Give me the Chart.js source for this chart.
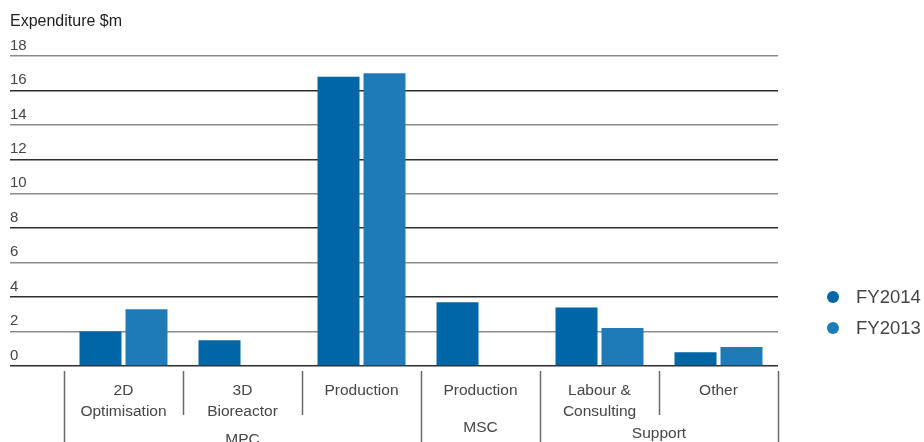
<!DOCTYPE html>
<html>
<head>
<meta charset="utf-8">
<script src="https://cdn.jsdelivr.net/npm/chart.js@4/dist/chart.umd.min.js"></script>
<style>
  html, body { margin: 0; padding: 0; background: #fff; }
  #wrap { width: 924px; height: 442px; }
</style>
</head>
<body>
<div id="wrap"><canvas id="chart" width="924" height="442"></canvas></div>
<script>
const categories = [['2D', 'Optimisation'], ['3D', 'Bioreactor'], 'Production', 'Production', ['Labour &', 'Consulting'], 'Other'];
const fy2014 = [2.0, 1.5, 16.8, 3.7, 3.4, 0.8];
const fy2013 = [3.3, null, 17.0, null, 2.2, 1.1];
const groupLabels = ['MPC', 'MSC', 'Support'];
const groupSpans = [[0, 2], [3, 3], [4, 5]];
const yTicks = { min: 0, max: 18, step: 2 };

const FONT = '"Liberation Sans", Arial, sans-serif';
const TEXT = '#454545';

// dividers under the x axis, group names, legend and the axis title
const decorations = {
  id: 'decorations',
  afterDraw(chart) {
    const { ctx, chartArea } = chart;
    const x = chart.scales.x;
    const half = (x.getPixelForValue(1) - x.getPixelForValue(0)) / 2;
    const longAt = new Set([0]);
    groupSpans.forEach(s => longAt.add(s[1] + 1));

    ctx.save();
    ctx.strokeStyle = '#6a6a6a';
    ctx.lineWidth = 1.5;
    for (let i = 0; i <= categories.length; i++) {
      const px = Math.round(x.getPixelForValue(0) - half + i * half * 2) + 0.5;
      ctx.beginPath();
      ctx.moveTo(px, chartArea.bottom + 5);
      ctx.lineTo(px, longAt.has(i) ? 442 : chartArea.bottom + 49);
      ctx.stroke();
    }

    ctx.fillStyle = TEXT;
    ctx.font = '15.5px ' + FONT;
    ctx.textAlign = 'center';
    ctx.textBaseline = 'middle';
    const groupY = [440, 428, 434];
    groupLabels.forEach((label, i) => {
      const [a, b] = groupSpans[i];
      const cx = (x.getPixelForValue(a) + x.getPixelForValue(b)) / 2;
      ctx.fillText(label, cx, groupY[i]);
    });

    // title
    ctx.fillStyle = '#1e1e1e';
    ctx.font = '16px ' + FONT;
    ctx.textAlign = 'left';
    ctx.textBaseline = 'alphabetic';
    ctx.fillText('Expenditure $m', 10, 26);

    // legend
    ctx.font = '18.5px ' + FONT;
    ctx.textBaseline = 'middle';
    chart.data.datasets.forEach((ds, i) => {
      const ly = 297 + i * 31;
      ctx.fillStyle = ds.backgroundColor;
      ctx.beginPath();
      ctx.arc(833, ly, 6, 0, Math.PI * 2);
      ctx.fill();
      ctx.fillStyle = TEXT;
      ctx.fillText(ds.label, 856, ly + 1);
    });
    ctx.restore();
  }
};

new Chart(document.getElementById('chart'), {
  type: 'bar',
  data: {
    labels: categories,
    datasets: [
      { label: 'FY2014', data: fy2014, backgroundColor: '#0066a6' },
      { label: 'FY2013', data: fy2013, backgroundColor: '#1f7bb8' },
    ],
  },
  options: {
    responsive: false,
    animation: false,
    categoryPercentage: 0.773,
    barPercentage: 0.913,
    layout: { padding: { left: 10, right: 146, top: 56, bottom: 0 } },
    plugins: {
      legend: { display: false },
      title: { display: false },
      tooltip: { enabled: false },
    },
    scales: {
      x: {
        grid: { display: false },
        border: { display: false },
        ticks: {
          color: TEXT,
          font: { family: FONT, size: 15.5, lineHeight: 1.3 },
          padding: 7,
          autoSkip: false,
          maxRotation: 0,
        },
        afterFit: (scale) => { scale.height = 76; },
      },
      y: {
        min: yTicks.min,
        max: yTicks.max,
        border: { display: false },
        grid: {
          color: (c) => (c.tick && c.tick.value % 4 === 0 ? '#2e2e2e' : '#8c8c8c'),
          lineWidth: 1.5,
          tickLength: 54,
        },
        ticks: {
          stepSize: yTicks.step,
          mirror: true,
          padding: -54,
          labelOffset: -10.5,
          color: TEXT,
          font: { family: FONT, size: 15 },
        },
        afterFit: (scale) => { scale.width = 54; },
      },
    },
  },
  plugins: [decorations],
});
</script>
</body>
</html>
